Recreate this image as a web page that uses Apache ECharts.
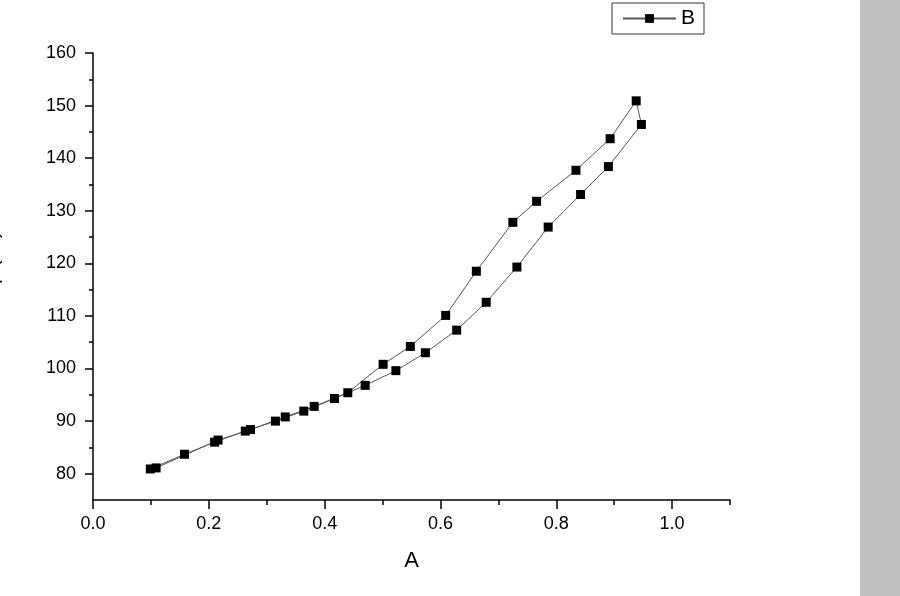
<!DOCTYPE html>
<html>
<head>
<meta charset="utf-8">
<script src="https://cdn.jsdelivr.net/npm/echarts@6/dist/echarts.min.js"></script>
<style>
  html, body { margin: 0; padding: 0; background: #fff; }
  #chart { width: 900px; height: 596px; }
</style>
</head>
<body>
<div id="chart"></div>
<script>
// series B: lower branch going up, then upper branch coming back down
const xValues = [
  0.099, 0.158, 0.210, 0.263, 0.315, 0.364, 0.417, 0.470, 0.523, 0.574,
  0.628, 0.679, 0.732, 0.786, 0.842, 0.890, 0.947,
  0.938, 0.893, 0.834, 0.766, 0.725, 0.662, 0.609, 0.548, 0.501,
  0.440, 0.382, 0.332, 0.272, 0.216, 0.109
]
const yValues = [
  80.9, 83.7, 86.0, 88.1, 90.0, 91.9, 94.3, 96.8, 99.6, 103.0,
  107.3, 112.6, 119.3, 126.9, 133.1, 138.4, 146.4,
  150.9, 143.7, 137.7, 131.8, 127.8, 118.5, 110.1, 104.2, 100.8,
  95.4, 92.8, 90.8, 88.4, 86.4, 81.1
]

const xMajorTicks = [0, 0.2, 0.4, 0.6, 0.8, 1.0]
const xMinorTicks = [0.1, 0.3, 0.5, 0.7, 0.9, 1.1]
const yMajorTicks = [80, 90, 100, 110, 120, 130, 140, 150, 160]
const yMinorTicks = [85, 95, 105, 115, 125, 135, 145, 155]

const seriesName = 'B'
const xName = 'A'
const yName = 'Temp (°C)'

const FONT = '"Liberation Sans", Arial, sans-serif'
const AXIS_COLOR = '#000'

const chart = echarts.init(document.getElementById('chart'))

const points = xValues.map((x, i) => [x, yValues[i]])

const option = {
  animation: false,
  textStyle: { fontFamily: FONT, color: '#000' },
  graphic: [
    {
      type: 'rect',
      right: 0,
      top: 0,
      shape: { width: 40, height: 596 },
      style: { fill: '#c0c0c0' },
      silent: true
    }
  ],
  legend: {
    data: [seriesName],
    left: 612,
    top: 3,
    padding: [5, 9, 5, 10],
    borderColor: '#333',
    borderWidth: 1,
    itemWidth: 53,
    itemHeight: 11,
    textStyle: { fontFamily: FONT, fontSize: 21, color: '#000' }
  },
  grid: {
    left: 93,
    right: 170,
    top: 53,
    bottom: 96,
    outerBoundsMode: 'none'
  },
  xAxis: [
    {
      type: 'value',
      min: 0,
      max: 1.1,
      name: xName,
      nameLocation: 'middle',
      nameGap: 50,
      nameTextStyle: { fontFamily: FONT, fontSize: 22, color: '#000' },
      axisLine: { show: true, onZero: false, lineStyle: { color: AXIS_COLOR, width: 1.5 } },
      axisTick: { show: true, customValues: xMajorTicks, length: 9, lineStyle: { color: AXIS_COLOR, width: 1.5 } },
      axisLabel: {
        customValues: xMajorTicks,
        margin: 15,
        fontFamily: FONT,
        fontSize: 18,
        color: '#000',
        formatter: v => v.toFixed(1)
      },
      splitLine: { show: false }
    },
    {
      type: 'value',
      position: 'bottom',
      min: 0,
      max: 1.1,
      axisLine: { show: false },
      axisTick: { show: true, customValues: xMinorTicks, length: 5, lineStyle: { color: AXIS_COLOR, width: 1.5 } },
      axisLabel: { show: false },
      splitLine: { show: false }
    }
  ],
  yAxis: [
    {
      type: 'value',
      min: 75,
      max: 160,
      name: yName,
      nameLocation: 'middle',
      nameGap: 91,
      nameTextStyle: { fontFamily: FONT, fontSize: 20, color: '#000' },
      axisLine: { show: true, onZero: false, lineStyle: { color: AXIS_COLOR, width: 1.5 } },
      axisTick: { show: true, customValues: yMajorTicks, length: 8, lineStyle: { color: AXIS_COLOR, width: 1.5 } },
      axisLabel: {
        customValues: yMajorTicks,
        margin: 17,
        fontFamily: FONT,
        fontSize: 18,
        color: '#000'
      },
      splitLine: { show: false }
    },
    {
      type: 'value',
      position: 'left',
      min: 75,
      max: 160,
      axisLine: { show: false },
      axisTick: { show: true, customValues: yMinorTicks, length: 4, lineStyle: { color: AXIS_COLOR, width: 1.5 } },
      axisLabel: { show: false },
      splitLine: { show: false }
    }
  ],
  series: [
    {
      name: seriesName,
      type: 'line',
      xAxisIndex: 0,
      yAxisIndex: 0,
      data: points,
      symbol: 'rect',
      symbolSize: 9,
      itemStyle: { color: '#000' },
      lineStyle: { color: '#555', width: 1 },
      z: 3
    }
  ]
}

chart.setOption(option)
</script>
</body>
</html>
